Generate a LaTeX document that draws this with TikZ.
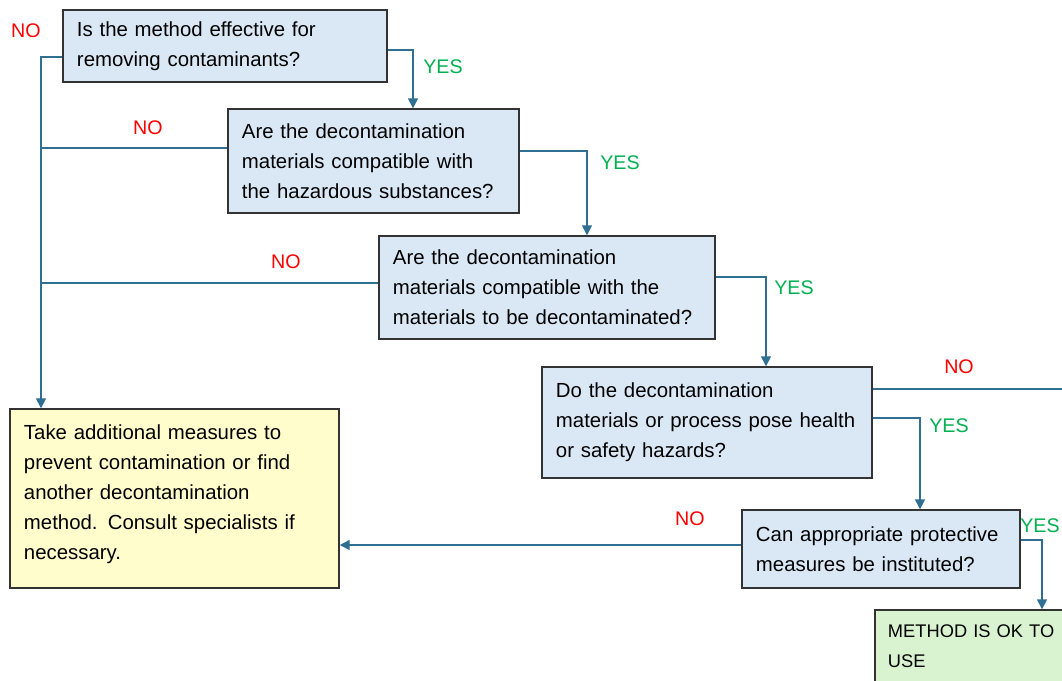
\documentclass[tikz,border=0pt]{standalone}
\usepackage{fontspec}
\setmainfont{Liberation Sans}
\usetikzlibrary{arrows.meta,calc}
\definecolor{qfill}{HTML}{DAE8F5}
\definecolor{nfill}{HTML}{FFFDCC}
\definecolor{okfill}{HTML}{D9F2D0}
\definecolor{linkc}{HTML}{2F6F92}
\definecolor{yesc}{HTML}{00B050}
\definecolor{noc}{HTML}{FF0000}
\tikzset{
  qbox/.style={draw=black!80,line width=1pt,fill=qfill,align=left,inner xsep=0.35cm,
    font=\fontsize{14.5}{21.3}\selectfont},
  notebox/.style={qbox,fill=nfill},
  okbox/.style={qbox,fill=okfill,inner xsep=0.325cm,font=\fontsize{13}{21.3}\selectfont},
  link/.style={draw=linkc,line width=1.1pt},
  arr/.style={link,-{Triangle[length=7pt,width=7pt]}},
  yeslab/.style={text=yesc,font=\fontsize{14}{16}\selectfont},
  nolab/.style={text=noc,font=\fontsize{14}{16}\selectfont}
}
\begin{document}
\begin{tikzpicture}[x=0.025cm,y=-0.025cm]
  \useasboundingbox (0,0) rectangle (1062,680);
  \clip (0,0) rectangle (1062,680);
  % questions
  \node (q1) at (225,46) [qbox,minimum width=8.1cm,minimum height=1.8cm,text width=7.4cm]
    {Is the method effective for\\removing contaminants?};
  \node (q2) at (373.5,161) [qbox,minimum width=7.275cm,minimum height=2.6cm,text width=6.575cm]
    {Are the decontamination\\materials compatible with\\the hazardous substances?};
  \node (q3) at (547,287.5) [qbox,minimum width=8.4cm,minimum height=2.575cm,text width=7.7cm]
    {Are the decontamination\\materials compatible with the\\materials to be decontaminated?};
  \node (q4) at (707,422.5) [qbox,minimum width=8.25cm,minimum height=2.775cm,text width=7.55cm]
    {Do the decontamination\\materials or process pose health\\or safety hazards?};
  \node (q5) at (881,549) [qbox,minimum width=6.95cm,minimum height=1.95cm,text width=6.25cm]
    {Can appropriate protective\\measures be instituted?};
  % outcomes
  \node (fail) at (174.5,498.5) [notebox,minimum width=8.225cm,minimum height=4.475cm,text width=7.525cm]
    {Take additional measures to\\prevent contamination or find\\another decontamination\\method. Consult specialists if\\necessary.\\[-12pt]\mbox{}};
  \node (ok) at (990,646) [okbox,minimum width=5.75cm,minimum height=1.8cm,text width=5.1cm]
    {METHOD IS OK TO\\USE};
  \coordinate (trunk) at (41,57);
  \coordinate (offright) at (1075,389);
  % yes branches
  \draw[arr] (q1.east) ++(0,4) -| ($(q2.north)+(39.5,0)$);
  \draw[arr] (q2.east) ++(0,-10) -| ($(q3.north)+(40,0)$);
  \draw[arr] (q3.east) ++(0,-10.5) -| ($(q4.north)+(59,0)$);
  \draw[arr] (q4.east) ++(0,-4.5) -| ($(q5.north)+(39,0)$);
  \draw[arr] (q5.east) ++(0,-9) -| ($(ok.north)+(52,0)$);
  % no branches
  \draw[arr] (q1.west) ++(0,11) -| ($(fail.north)+(-133.5,0)$);
  \draw[link] (q2.west) ++(0,-13) coordinate (n2) -- (n2 -| trunk);
  \draw[link] (q3.west) ++(0,-4.5) coordinate (n3) -- (n3 -| trunk);
  \draw[link] (q4.east) ++(0,-33.5) coordinate (n4) -- (n4 -| offright);
  \draw[arr] (q5.west) ++(0,-4) coordinate (n5) -- (n5 -| fail.east);
  % labels
  \node (y1) at (443,67) [yeslab] {YES};
  \node (y2) at (620,163) [yeslab] {YES};
  \node (y3) at (794,288) [yeslab] {YES};
  \node (y4) at (949,426) [yeslab] {YES};
  \node (y5) at (1040,526) [yeslab] {YES};
  \node (no1) at (26,31) [nolab] {NO};
  \node (no2) at (148,128) [nolab] {NO};
  \node (no3) at (286,262) [nolab] {NO};
  \node (no4) at (959,367) [nolab] {NO};
  \node (no5) at (690,519) [nolab] {NO};
\end{tikzpicture}
\end{document}
